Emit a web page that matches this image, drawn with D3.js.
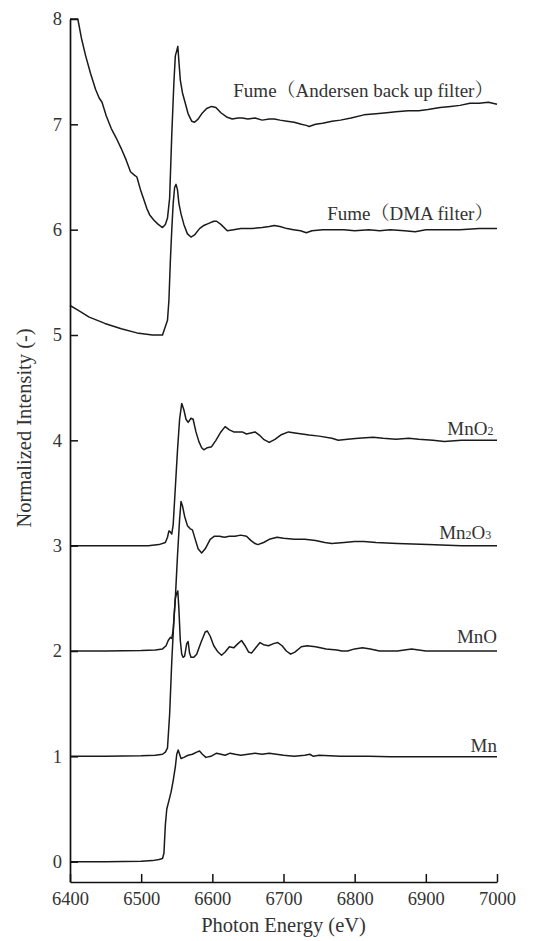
<!DOCTYPE html>
<html>
<head>
<meta charset="utf-8">
<script src="https://cdn.jsdelivr.net/npm/d3@7"></script>
<style>
  html, body { margin: 0; padding: 0; background: #fff; }
  svg { display: block; }
  text { font-family: "Liberation Serif", "Times New Roman", "Noto Serif CJK SC", "Noto Sans CJK SC", serif; }
</style>
</head>
<body>
<svg id="chart" width="547" height="941"></svg>
<script>
// ---- data (Photon energy eV, normalized intensity) ----
const xTicks = [6400, 6500, 6600, 6700, 6800, 6900, 7000];
const yTicks = [0, 1, 2, 3, 4, 5, 6, 7, 8];

const mn = [[6400,0],[6450,0],[6500,0.005],[6516,0.01],[6525,0.02],[6530,0.03],[6532,0.08],[6534,0.35],[6536,0.5],[6539,0.58],[6542,0.66],[6545,0.77],[6548,0.9],[6550,1.02],[6552,1.06],[6554,1.02],[6556,0.98],[6560,0.99],[6566,1.01],[6572,1.02],[6578,1.04],[6582,1.05],[6586,1.02],[6591,0.99],[6598,1.0],[6606,1.03],[6612,1.02],[6618,1.01],[6625,1.03],[6632,1.02],[6640,1.01],[6650,1.02],[6660,1.03],[6670,1.02],[6680,1.03],[6690,1.02],[6700,1.01],[6715,1.0],[6730,1.01],[6737,1.02],[6742,1.0],[6750,1.01],[6780,1.0],[6820,1.0],[6850,0.995],[6900,0.995],[7000,0.995]];

const mnO = [[6400,1.0],[6450,1.0],[6500,1.005],[6520,1.01],[6530,1.02],[6534,1.04],[6537,1.08],[6540,1.4],[6543,1.9],[6546,2.3],[6548,2.5],[6550,2.55],[6551.5,2.57],[6553,2.4],[6555,2.1],[6557,1.97],[6559,1.94],[6561,1.95],[6564,2.07],[6566,2.09],[6568,1.98],[6570,1.94],[6574,1.94],[6578,1.97],[6584,2.08],[6590,2.18],[6593,2.19],[6597,2.14],[6602,2.05],[6608,1.99],[6613,1.96],[6618,1.99],[6624,2.04],[6630,2.03],[6636,2.07],[6641,2.1],[6646,2.05],[6651,1.99],[6655,1.98],[6661,2.03],[6667,2.08],[6672,2.06],[6679,2.05],[6686,2.07],[6692,2.08],[6698,2.05],[6704,2.0],[6710,1.97],[6716,1.99],[6725,2.04],[6733,2.05],[6745,2.04],[6760,2.02],[6775,2.01],[6782,2.0],[6790,2.0],[6800,2.02],[6811,2.03],[6822,2.02],[6835,2.0],[6860,2.0],[6880,2.02],[6890,2.01],[6900,2.0],[7000,2.0]];

const mn2o3 = [[6400,2.0],[6450,2.0],[6500,2.005],[6520,2.01],[6530,2.02],[6535,2.05],[6538,2.1],[6541,2.13],[6543,2.12],[6545,2.2],[6548,2.5],[6551,2.9],[6554,3.25],[6556,3.42],[6558,3.38],[6561,3.28],[6565,3.19],[6569,3.16],[6572,3.15],[6576,3.06],[6580,2.97],[6585,2.93],[6590,2.97],[6597,3.06],[6603,3.09],[6610,3.09],[6617,3.08],[6624,3.09],[6632,3.09],[6640,3.1],[6648,3.09],[6654,3.05],[6660,3.02],[6664,3.01],[6672,3.03],[6680,3.06],[6691,3.08],[6700,3.07],[6715,3.06],[6730,3.06],[6745,3.05],[6758,3.03],[6768,3.02],[6785,3.03],[6800,3.04],[6813,3.04],[6830,3.03],[6860,3.02],[6903,3.01],[6950,3.0],[7000,3.0]];

const mnO2 = [[6400,3.0],[6450,3.0],[6500,3.0],[6510,3.0],[6525,3.01],[6534,3.03],[6537,3.08],[6539,3.14],[6541,3.13],[6543,3.11],[6545,3.2],[6548,3.55],[6551,3.9],[6554,4.2],[6557,4.35],[6560,4.29],[6563,4.2],[6566,4.17],[6570,4.21],[6573,4.2],[6577,4.08],[6581,3.99],[6585,3.93],[6588,3.91],[6593,3.93],[6599,3.94],[6605,4.0],[6612,4.08],[6618,4.13],[6624,4.1],[6630,4.08],[6636,4.08],[6642,4.08],[6648,4.06],[6654,4.07],[6660,4.08],[6666,4.05],[6672,4.01],[6680,3.98],[6688,4.01],[6696,4.05],[6707,4.08],[6716,4.07],[6726,4.06],[6736,4.05],[6750,4.04],[6768,4.02],[6777,4.0],[6790,4.01],[6805,4.02],[6826,4.03],[6840,4.02],[6858,4.01],[6876,4.02],[6890,4.01],[6910,4.0],[6926,3.99],[6950,4.0],[7000,4.0]];

const fumeDMA = [[6400,5.28],[6410,5.24],[6427,5.17],[6449,5.11],[6472,5.06],[6494,5.02],[6516,5.0],[6530,5.0],[6534,5.08],[6537,5.14],[6539,5.33],[6541,5.7],[6543,6.0],[6545,6.25],[6547,6.4],[6549,6.43],[6551,6.38],[6553,6.25],[6556,6.15],[6560,6.05],[6565,5.96],[6570,5.93],[6575,5.95],[6582,6.01],[6588,6.04],[6595,6.06],[6602,6.08],[6606,6.08],[6612,6.05],[6621,5.99],[6630,6.0],[6640,6.01],[6655,6.01],[6670,6.02],[6680,6.03],[6687,6.04],[6695,6.03],[6705,6.01],[6714,6.0],[6724,5.99],[6732,5.97],[6740,5.99],[6755,6.0],[6768,6.0],[6785,6.0],[6800,5.99],[6820,6.0],[6835,5.99],[6850,6.0],[6870,5.99],[6885,5.98],[6900,6.0],[6920,6.0],[6948,6.0],[6975,6.01],[7000,6.01]];

const fumeAndersen = [[6400,8.0],[6411,8.0],[6416,7.82],[6422,7.65],[6429,7.48],[6436,7.33],[6441,7.25],[6445,7.21],[6451,7.08],[6458,6.96],[6465,6.87],[6472,6.77],[6479,6.66],[6485,6.55],[6490,6.52],[6494,6.5],[6499,6.38],[6503,6.3],[6508,6.2],[6512,6.14],[6518,6.09],[6524,6.05],[6530,6.02],[6534,6.05],[6537,6.11],[6540,6.3],[6543,6.9],[6546,7.4],[6548,7.65],[6550,7.7],[6551.5,7.74],[6553,7.6],[6555,7.42],[6558,7.3],[6562,7.2],[6566,7.1],[6571,7.03],[6575,7.02],[6580,7.05],[6585,7.1],[6592,7.15],[6599,7.17],[6605,7.16],[6612,7.11],[6620,7.07],[6628,7.05],[6636,7.06],[6642,7.06],[6650,7.05],[6660,7.06],[6670,7.04],[6680,7.05],[6687,7.05],[6695,7.04],[6705,7.03],[6715,7.02],[6725,7.0],[6732,6.99],[6736,6.98],[6745,7.0],[6755,7.01],[6768,7.03],[6780,7.04],[6795,7.06],[6813,7.09],[6830,7.1],[6845,7.11],[6858,7.12],[6875,7.13],[6890,7.13],[6903,7.14],[6920,7.16],[6935,7.17],[6948,7.18],[6962,7.2],[6975,7.2],[6988,7.21],[7000,7.19]];

const seriesList = [mn, mnO, mn2o3, mnO2, fumeDMA, fumeAndersen];

// labels: text parts (with subscript flag), anchored in data coords
const labelTexts = [
  {parts: [["Fume（Andersen back up filter）", false]], x: 6995, y: 7.26},
  {parts: [["Fume（DMA filter）", false]], x: 6995, y: 6.09},
  {parts: [["MnO", false], ["2", true]], x: 6995, y: 4.05},
  {parts: [["Mn", false], ["2", true], ["O", false], ["3", true]], x: 6992, y: 3.06},
  {parts: [["MnO", false]], x: 7000, y: 2.08},
  {parts: [["Mn", false]], x: 7000, y: 1.04}
];

// ---- drawing ----
const svg = d3.select("#chart");
const x = d3.scaleLinear().domain([6400, 7000]).range([70, 497]);
const y = d3.scaleLinear().domain([-0.193, 8]).range([882, 19]);

const line = d3.line().x(d => x(d[0])).y(d => y(d[1]));

svg.append("g").selectAll("path").data(seriesList).join("path")
  .attr("d", line)
  .attr("fill", "none")
  .attr("stroke", "#1a1a1a")
  .attr("stroke-width", 1.5)
  .attr("stroke-linejoin", "round");

const yAxis = svg.append("g").attr("transform", `translate(${x(6400)},0)`)
  .call(d3.axisLeft(y).tickValues(yTicks).tickFormat(d3.format("d")).tickSizeInner(-8).tickSizeOuter(0).tickPadding(8));
const xAxis = svg.append("g").attr("transform", `translate(0,${y(-0.193)})`)
  .call(d3.axisBottom(x).tickValues(xTicks).tickFormat(d3.format("d")).tickSizeInner(-8).tickSizeOuter(0).tickPadding(10));

[yAxis, xAxis].forEach(g => {
  g.select(".domain").attr("stroke", "#111").attr("stroke-width", 1.7);
  g.selectAll(".tick line").attr("stroke", "#111").attr("stroke-width", 1.5);
  g.selectAll(".tick text").attr("fill", "#333").style("font-size", "18.5px")
    .style("font-family", "'Liberation Serif', 'Times New Roman', serif");
});

// axis titles
svg.append("text")
  .attr("x", (x(6400) + x(7000)) / 2).attr("y", 932)
  .attr("text-anchor", "middle").attr("fill", "#333").style("font-size", "20.5px")
  .text("Photon Energy (eV)");
svg.append("text")
  .attr("transform", `translate(31,428) rotate(-90)`)
  .attr("text-anchor", "middle").attr("fill", "#333").style("font-size", "20.5px")
  .text("Normalized Intensity (-)");

// series labels
labelTexts.forEach(l => {
  const t = svg.append("text")
    .attr("x", x(l.x)).attr("y", y(l.y))
    .attr("text-anchor", "end").attr("fill", "#333").style("font-size", "19px");
  l.parts.forEach(p => {
    const ts = t.append("tspan").text(p[0]);
    if (p[1]) ts.style("font-size", "12px");
  });
});
</script>
</body>
</html>
